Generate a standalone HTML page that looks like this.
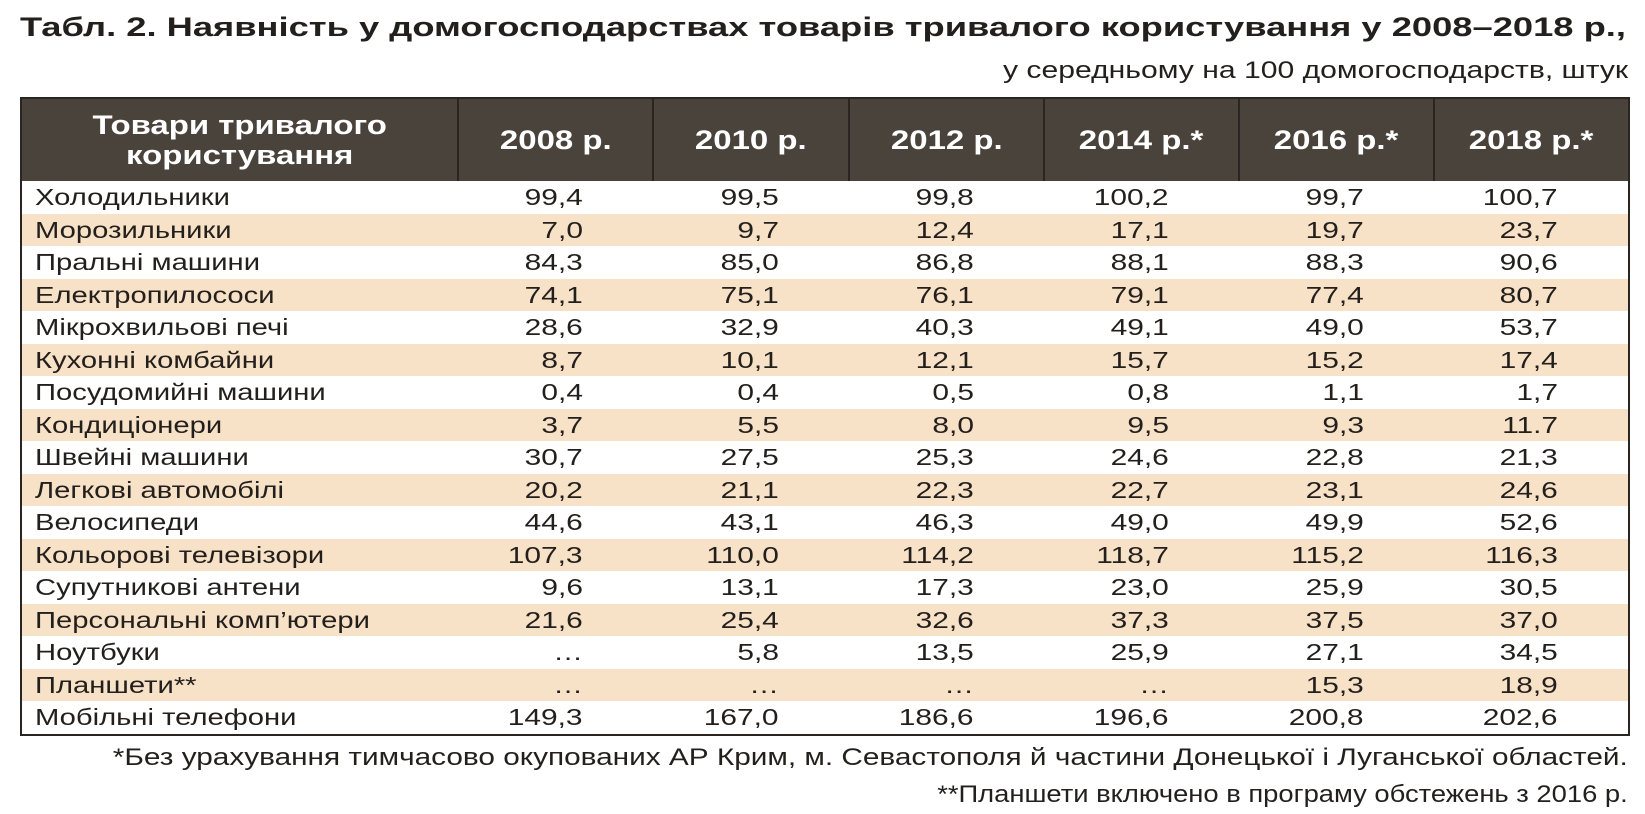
<!DOCTYPE html>
<html><head><meta charset="utf-8">
<style>
body{margin:0;width:1645px;height:814px;background:#fff;overflow:hidden;font-family:"Liberation Sans","Noto Sans CJK SC",sans-serif;color:#231f1c;position:relative}
.sx{display:inline-block;white-space:nowrap}
#title{position:absolute;left:20px;top:12px;font-size:27px;font-weight:bold;white-space:nowrap;transform:scaleX(1.345);transform-origin:left center}
#sub{position:absolute;right:17px;top:57px;font-size:24px;white-space:nowrap;transform:scaleX(1.255);transform-origin:right center}
#tbl{position:absolute;left:20px;top:97px;width:1608px;border:2px solid #2b2521;border-collapse:collapse;table-layout:fixed}
#tbl th{background:#4a433c;color:#fff;font-size:27px;font-weight:bold;height:82px;border-left:2px solid #2b2521;padding:0;line-height:30px;overflow:hidden}
#tbl th .sx{transform:scaleX(1.22)}
#tbl th:first-child{border-left:none}
#tbl td{font-size:23px;height:32.5px;padding:0;line-height:32px;white-space:nowrap}
#tbl td.n{text-align:right;padding-right:70px}
#tbl td.n .sx{transform:scaleX(1.3);transform-origin:right center}
#tbl td.l{padding-left:13px}
#tbl td.l .sx{transform:scaleX(1.27);transform-origin:left center}
#tbl tr.s td{background:#f7e1c7}
.fn{position:absolute;right:17px;font-size:24px;white-space:nowrap;transform-origin:right center}
</style></head><body>
<div id="title">Табл. 2. Наявність у домогосподарствах товарів тривалого користування у 2008–2018 р.,</div>
<div id="sub">у середньому на 100 домогосподарств, штук</div>
<table id="tbl">
<colgroup><col style="width:437px"><col style="width:195px"><col style="width:196px"><col style="width:195px"><col style="width:195px"><col style="width:195px"><col style="width:195px"></colgroup>
<thead><tr>
<th><span class="sx">Товари тривалого<br>користування</span></th>
<th><span class="sx">2008 р.</span></th>
<th><span class="sx">2010 р.</span></th>
<th><span class="sx">2012 р.</span></th>
<th><span class="sx">2014 р.*</span></th>
<th><span class="sx">2016 р.*</span></th>
<th><span class="sx">2018 р.*</span></th>
</tr></thead>
<tbody id="body"></tbody>
</table>
<div class="fn" style="top:744px;transform:scaleX(1.24)">*Без урахування тимчасово окупованих АР Крим, м. Севастополя й частини Донецької і Луганської областей.</div>
<div class="fn" style="top:781px;transform:scaleX(1.14)">**Планшети включено в програму обстежень з 2016 р.</div>
<script>
const goods=["Холодильники","Морозильники","Пральні машини","Електропилососи","Мікрохвильові печі","Кухонні комбайни","Посудомийні машини","Кондиціонери","Швейні машини","Легкові автомобілі","Велосипеди","Кольорові телевізори","Супутникові антени","Персональні комп'ютери","Ноутбуки","Планшети**","Мобільні телефони"];
const v2008=["99,4","7,0","84,3","74,1","28,6","8,7","0,4","3,7","30,7","20,2","44,6","107,3","9,6","21,6","…","…","149,3"];
const v2010=["99,5","9,7","85,0","75,1","32,9","10,1","0,4","5,5","27,5","21,1","43,1","110,0","13,1","25,4","5,8","…","167,0"];
const v2012=["99,8","12,4","86,8","76,1","40,3","12,1","0,5","8,0","25,3","22,3","46,3","114,2","17,3","32,6","13,5","…","186,6"];
const v2014=["100,2","17,1","88,1","79,1","49,1","15,7","0,8","9,5","24,6","22,7","49,0","118,7","23,0","37,3","25,9","…","196,6"];
const v2016=["99,7","19,7","88,3","77,4","49,0","15,2","1,1","9,3","22,8","23,1","49,9","115,2","25,9","37,5","27,1","15,3","200,8"];
const v2018=["100,7","23,7","90,6","80,7","53,7","17,4","1,7","11.7","21,3","24,6","52,6","116,3","30,5","37,0","34,5","18,9","202,6"];
const years=["2008","2010","2012","2014","2016","2018"];
const series=[v2008,v2010,v2012,v2014,v2016,v2018];
const tb=document.getElementById('body');
goods.forEach((g,i)=>{
  const tr=document.createElement('tr');
  
  
  if(i%2===1) tr.className='s';
  const td=document.createElement('td');
  td.className='l';
  td.innerHTML='<span class="sx">'+g.replace("'","’")+'</span>';
  
  
  tr.appendChild(td);
  series.forEach((s,j)=>{
    const c=document.createElement('td');
    c.className='n';
    c.innerHTML='<span class="sx">'+s[i]+'</span>';
    
    
    tr.appendChild(c);
  });
  tb.appendChild(tr);
});
</script>
</body></html>
